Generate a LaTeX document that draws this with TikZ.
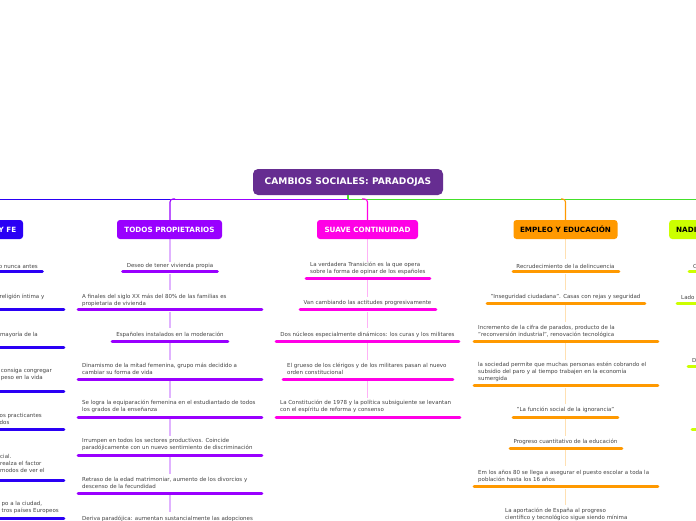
\documentclass[tikz,border=0pt]{standalone}
\usepackage{fontspec}
\setmainfont{DejaVu Sans}
\definecolor{rootc}{HTML}{662D91}
\definecolor{bluec}{HTML}{2A00F5}
\definecolor{purpc}{HTML}{9900FF}
\definecolor{magc}{HTML}{FF00E6}
\definecolor{orac}{HTML}{FF9900}
\definecolor{limc}{HTML}{CCFF00}
\definecolor{greenc}{HTML}{44E02A}
\definecolor{txt}{HTML}{444444}
\tikzset{
 mainbox/.style={rounded corners=3pt,font=\bfseries\fontsize{7.2}{8}\selectfont,inner sep=0pt,minimum height=19pt},
 sub/.style={font=\fontsize{5.5}{7}\selectfont,text=txt,inner sep=0pt,align=left,anchor=south west},
 subc/.style={font=\fontsize{5.5}{7}\selectfont,text=txt,inner sep=0pt,align=center,anchor=south},
 subr/.style={font=\fontsize{5.5}{7}\selectfont,text=txt,inner sep=0pt,align=right,anchor=south east},
 bar/.style={line width=2.8pt,line cap=round},
 stem/.style={line width=1.6pt,opacity=.3},
 feed/.style={line width=1.1pt,rounded corners=3pt},
}
\begin{document}
\begin{tikzpicture}[x=1pt,y=-1pt]
\useasboundingbox (0,0) rectangle (696,520);
\fill[white] (0,0) rectangle (696,520);
\begin{scope}
\clip (0,0) rectangle (696,520);
% trunk lines
\coordinate (trunk) at (348,199);
\coordinate (lefte) at (0,199);
\coordinate (righte) at (696,199);
\draw[bluec,line width=.9pt] (lefte) -- (170,199);
\draw[purpc,line width=.9pt] (170,199) -- (trunk);
\draw[greenc,line width=.9pt] (trunk) -- (righte);
% stems
\foreach \a/\b in {239/262,274/290,312/328,343/360,381/398,419/436,457/474,495/512}{\draw[purpc,stem] (170,\a) -- (170,\b);}
\foreach \a/\b in {239/262,280/297,312/328,343/360,381/398}{\draw[magc,stem] (367.5,\a) -- (367.5,\b);}
\foreach \a/\b in {239/259,274/290,305/322,343/360,388/404,419/436,450/466,489/505}{\draw[orac,stem] (565.5,\a) -- (565.5,\b);}
% root
\node[rounded corners=5pt,fill=rootc,text=white,font=\bfseries\fontsize{9.1}{10}\selectfont,minimum width=190pt,minimum height=26pt,inner sep=0pt] (root) at (348,182) {CAMBIOS SOCIALES: PARADOJAS};
\draw[greenc,line width=1.6pt] (root.south) -- (trunk);
% main nodes
\node[mainbox,fill=bluec,text=white,minimum width=50pt] (fe) at (-2,229.5) {};
\node[font=\bfseries\fontsize{7.2}{8}\selectfont,text=white,inner sep=0pt,anchor=east] (fet) at (16.5,229.5) {Y FE};
\node[mainbox,fill=purpc,text=white,minimum width=105pt] (prop) at (169.5,229.5) {TODOS PROPIETARIOS};
\node[mainbox,fill=magc,text=white,minimum width=101pt] (suave) at (367.5,229.5) {SUAVE CONTINUIDAD};
\node[mainbox,fill=orac,text=black,minimum width=104pt] (emp) at (565.5,229.5) {EMPLEO Y EDUCACIÓN};
\node[rounded corners=3pt,fill=limc,minimum width=60pt,minimum height=19pt,inner sep=0pt,anchor=west] (nad) at (669,229.5) {};
\node[font=\bfseries\fontsize{7.2}{8}\selectfont,text=black,inner sep=0pt,anchor=west] (nadt) at (676,229.5) {NADIE};
% feeders
\draw[purpc,feed] (prop.north -| 170,0) -- (170,199) -- (175,199);
\draw[magc,feed] (suave.north) -- (367.5,199) -- (362,199);
\draw[orac,feed] (565.5,220) -- (565.5,199) -- (561,199);
% blue column
\node[subr] (b1) at (38,268.5) {o nunca antes};
\draw[bar,bluec] (-10,271.5) -- (42.5,271.5);
\node[subr] (b2) at (44.5,300) {religión íntima y};
\draw[bar,bluec] (-10,309.5) -- (64,309.5);
\node[subr] (b3) at (38,337.5) {mayoría de la};
\draw[bar,bluec] (-10,347.5) -- (64,347.5);
\node[subr] (b4) at (52,382) {\begin{tabular}{@{}l@{}}\hphantom{e} consiga congregar\\e peso en la vida\end{tabular}};
\draw[bar,bluec] (-10,391.5) -- (64,391.5);
\node[subr] (b5) at (42,426.5) {\begin{tabular}{@{}l@{}}os practicantes\\dos\end{tabular}};
\draw[bar,bluec] (-10,429.5) -- (64,429.5);
\node[sub] (b6) at (0,472.5) {cial.\\realza el factor\\modos de ver el};
\draw[bar,bluec] (-10,480.5) -- (64,480.5);
\node[subr] (b7) at (59,515) {\begin{tabular}{@{}l@{}}po a la ciudad,\\tros países Europeos\end{tabular}};
\draw[bar,bluec] (-10,518.5) -- (64,518.5);
% purple column
\node[subc] (p1) at (170,268.5) {Deseo de tener vivienda propia};
\draw[bar,purpc] (122.5,271.5) -- (217.5,271.5);
\node[sub] (p2) at (82,306.5) {A finales del siglo XX más del 80\% de las familias es\\propietaria de vivienda};
\draw[bar,purpc] (78,309.5) -- (262,309.5);
\node[subc] (p3) at (170,337.5) {Españoles instalados en la moderación};
\draw[bar,purpc] (112,341.5) -- (228,341.5);
\node[sub] (p4) at (82,375) {Dinamismo de la mitad femenina, grupo más decidido a\\cambiar su forma de vida};
\draw[bar,purpc] (78,379.5) -- (262,379.5);
\node[sub] (p5) at (82,413) {Se logra la equiparación femenina en el estudiantado de todos\\los grados de la enseñanza};
\draw[bar,purpc] (78,417.5) -- (262,417.5);
\node[sub] (p6) at (82,451) {Irrumpen en todos los sectores productivos. Coincide\\paradójicamente con un nuevo sentimiento de discriminación};
\draw[bar,purpc] (78,455.5) -- (262,455.5);
\node[sub] (p7) at (82,489) {Retraso de la edad matrimoniar, aumento de los divorcios y\\descenso de la fecundidad};
\draw[bar,purpc] (78,493.5) -- (262,493.5);
\node[sub,anchor=north west] (p8) at (82,515.5) {Deriva paradójica: aumentan sustancialmente las adopciones};
% magenta column
\node[sub] (m1) at (310,274.5) {La verdadera Transición es la que opera\\sobre la forma de opinar de los españoles};
\draw[bar,magc] (306,278.5) -- (430,278.5);
\node[subc] (m2) at (367.5,305.5) {Van cambiando las actitudes progresivamente};
\draw[bar,magc] (300,309.5) -- (436,309.5);
\node[subc] (m3) at (367.5,337.5) {Dos núcleos especialmente dinámicos: los curas y los militares};
\draw[bar,magc] (276,341.5) -- (459,341.5);
\node[sub] (m4) at (287,375) {El grueso de los clérigos y de los militares pasan al  nuevo\\orden constitucional};
\draw[bar,magc] (283,379.5) -- (453,379.5);
\node[sub] (m5) at (280,413) {La Constitución de 1978 y la política subsiguiente se levantan\\con el espíritu de reforma y consenso};
\draw[bar,magc] (276,417.5) -- (460,417.5);
% orange column
\node[subc] (o1) at (565.5,268.5) {Recrudecimiento de la delincuencia};
\draw[bar,orac] (513,271.5) -- (619,271.5);
\node[subc] (o2) at (565.5,300) {"Inseguridad ciudadana". Casas con rejas y seguridad};
\draw[bar,orac] (487,303.5) -- (645,303.5);
\node[sub] (o3) at (478,337.5) {Incremento de la cifra de parados, producto de la\\"reconversión industrial", renovación tecnológica};
\draw[bar,orac] (474,341.5) -- (658,341.5);
\node[sub] (o4) at (478,381.5) {la sociedad permite que muchas personas estén cobrando el\\subsidio del paro y al tiempo trabajen en la economía\\sumergida};
\draw[bar,orac] (474,385.5) -- (658,385.5);
\node[subc] (o5) at (565.5,413) {"La función social de la ignorancia"};
\draw[bar,orac] (513,417.5) -- (618,417.5);
\node[subc] (o6) at (565.5,445) {Progreso cuantitativo de la educación};
\draw[bar,orac] (510,448.5) -- (622,448.5);
\node[sub] (o7) at (478,483) {Em los años 80 se llega a asegurar el puesto escolar a toda la\\población hasta los 16 años};
\draw[bar,orac] (474,486.5) -- (658,486.5);
\node[sub,anchor=north west] (o8) at (505,508) {La aportación de España al progreso\\científico y tecnológico sigue siendo mínima};
% lime column
\node[sub] (l1) at (693,268.5) {C};
\draw[bar,limc] (689,271.5) -- (710,271.5);
\node[sub] (l2) at (681,300) {Lado};
\draw[bar,limc] (677,303.5) -- (710,303.5);
\node[sub] (l3) at (692,362.5) {D};
\draw[bar,limc] (688,366.5) -- (710,366.5);
\draw[bar,limc] (692,429.5) -- (710,429.5);
\end{scope}
\end{tikzpicture}
\end{document}
